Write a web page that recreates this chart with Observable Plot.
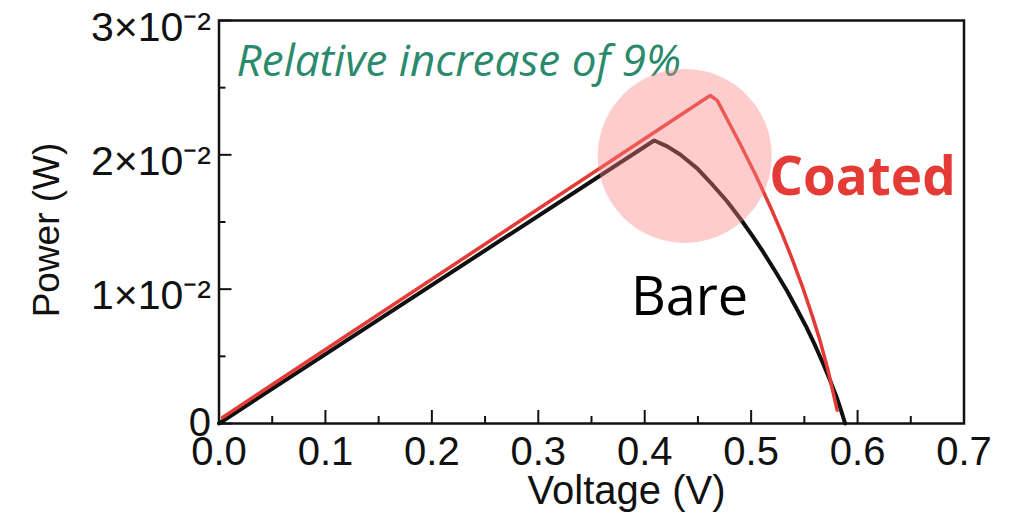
<!DOCTYPE html>
<html>
<head>
<meta charset="utf-8">
<script src="https://cdn.jsdelivr.net/npm/d3@7"></script>
<script src="https://cdn.jsdelivr.net/npm/@observablehq/plot@0.6"></script>
<style>
  html, body { margin: 0; padding: 0; background: #fff; }
  #chart svg { display: block; }
</style>
</head>
<body>
<div id="chart"></div>
<script>
// ---- data ----
const bareV = [0, 0.4089, 0.4211, 0.4333, 0.4493, 0.4643, 0.4775, 0.4897, 0.5009, 0.5113, 0.5225,
               0.5338, 0.5432, 0.5526, 0.5601, 0.5676, 0.5742, 0.5808, 0.5845, 0.5883];
const bareP = [0, 0.02107, 0.02063, 0.02003, 0.01899, 0.01772, 0.01653, 0.01526, 0.01400, 0.01277, 0.01135,
               0.00986, 0.00849, 0.00707, 0.00581, 0.00447, 0.00320, 0.00186, 0.00097, 0];
const coatedV = [0.0033, 0.4615, 0.4681, 0.4756, 0.4897, 0.5038, 0.5178, 0.5291, 0.5385, 0.5479,
                 0.5573, 0.5648, 0.5723, 0.5808];
const coatedP = [0.00045, 0.02442, 0.02405, 0.02293, 0.02081, 0.01858, 0.01617, 0.01412, 0.01226, 0.01025,
                 0.00805, 0.00615, 0.00394, 0.00099];

const xTicks = [0, 0.1, 0.2, 0.3, 0.4, 0.5, 0.6, 0.7];
const xTickLabels = ["0.0", "0.1", "0.2", "0.3", "0.4", "0.5", "0.6", "0.7"];
const xMinorTicks = [0.05, 0.15, 0.25, 0.35, 0.45, 0.55, 0.65];
const yTicks = [0, 0.01, 0.02, 0.03];
const yTickLabels = ["0", "1×10⁻²", "2×10⁻²", "3×10⁻²"];
const yMinorTicks = [0.005, 0.015, 0.025];

const xLabel = "Voltage (V)";
const yLabel = "Power (W)";
const seriesNames = ["Bare", "Coated"];
const annotation = "Relative increase of 9%";

// ---- build ----
const bare = bareV.map((v, i) => ({v, p: bareP[i]}));
const coated = coatedV.map((v, i) => ({v, p: coatedP[i]}));

const W = 1015, H = 515;
const mL = 218.5, mR = 51.5, mT = 20, mB = 92;
const innerW = W - mL - mR, innerH = H - mT - mB;
const axisFont = "'Liberation Sans', Arial, sans-serif";
const noteFont = "'Open Sans', Lato, sans-serif";
const RED = "#e53b36";
const fmtY = d => yTickLabels[yTicks.indexOf(d)];

const chart = Plot.plot({
  width: W,
  height: H,
  marginLeft: mL,
  marginRight: mR,
  marginTop: mT,
  marginBottom: mB,
  style: {fontFamily: axisFont, background: "#fff", color: "#111"},
  x: {domain: [0, 0.7]},
  y: {domain: [0, 0.03]},
  marks: [
    Plot.axisX({ticks: xTicks, tickSize: 0, tickPadding: 13, fontSize: 40,
      tickFormat: d => xTickLabels[xTicks.indexOf(d)], label: null}),
    Plot.axisY({ticks: yTicks.filter(d => d === 0), tickSize: 0, tickPadding: 8, fontSize: 40,
      tickFormat: fmtY, label: null}),
    Plot.axisY({ticks: yTicks.filter(d => d !== 0), tickSize: 0, tickPadding: 8, fontSize: 41, dy: 7,
      tickFormat: fmtY, label: null}),
    // inward ticks
    Plot.tickX(xTicks, {x: d => d, insetTop: innerH - 13, stroke: "#111", strokeWidth: 2}),
    Plot.tickX(xMinorTicks, {x: d => d, insetTop: innerH - 7, stroke: "#111", strokeWidth: 2}),
    Plot.tickY(yTicks, {y: d => d, insetRight: innerW - 13, stroke: "#111", strokeWidth: 2}),
    Plot.tickY(yMinorTicks, {y: d => d, insetRight: innerW - 7, stroke: "#111", strokeWidth: 2}),
    Plot.frame({stroke: "#111", strokeWidth: 2.5}),
    // axis titles
    Plot.text([xLabel], {text: d => d, frameAnchor: "bottom", textAnchor: "middle", dx: 35, dy: 80,
      fontSize: 40, fill: "#111"}),
    Plot.text([yLabel], {text: d => d, frameAnchor: "left", textAnchor: "middle", rotate: -90, dx: -172, dy: 8,
      fontSize: 37, fill: "#111"}),
    // series
    Plot.line(bare, {x: "v", y: "p", stroke: "#111", strokeWidth: 4}),
    Plot.line(coated, {x: "v", y: "p", stroke: RED, strokeWidth: 3.5}),
    // annotation
    Plot.text([annotation], {x: () => 0.0165, y: () => 0.02695, text: d => d, textAnchor: "start",
      fontSize: 44, fontStyle: "italic", fill: "#2b8a6c", fontFamily: noteFont}),
    Plot.dot([{v: 0.4376, p: 0.01992}], {x: "v", y: "p", r: 87, fill: "rgb(250,130,130)", fillOpacity: 0.4, stroke: "none"}),
    Plot.text([seriesNames[1]], {x: () => 0.517, y: () => 0.01824, text: d => d, textAnchor: "start",
      fontSize: 53, fontWeight: "bold", fill: RED, fontFamily: noteFont}),
    Plot.text([seriesNames[0]], {x: () => 0.387, y: () => 0.00938, text: d => d, textAnchor: "start",
      fontSize: 54, fill: "#000", fontFamily: noteFont})
  ]
});
document.getElementById("chart").appendChild(chart);
</script>
</body>
</html>
